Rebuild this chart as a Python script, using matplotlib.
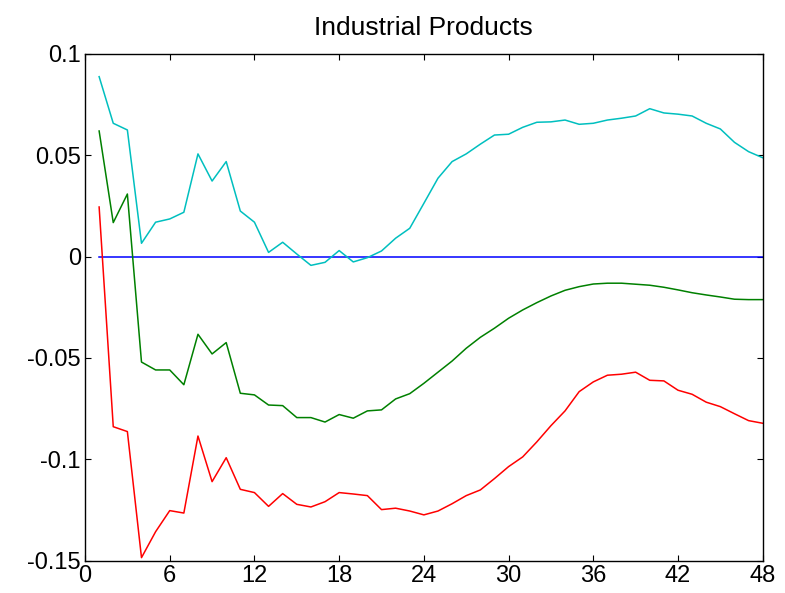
import matplotlib
matplotlib.use('Agg')
import matplotlib.pyplot as plt

# impulse responses, horizons 1..48
horizon = list(range(1, 49))

upper = [0.0888, 0.0658, 0.0625, 0.0066, 0.0170, 0.0186, 0.0219, 0.0507, 0.0373, 0.0469,
         0.0225, 0.0170, 0.0021, 0.0071, 0.0013, -0.0043, -0.0028, 0.0030, -0.0026, -0.0005,
         0.0028, 0.0091, 0.0140, 0.0263, 0.0387, 0.0469, 0.0507, 0.0555, 0.0600, 0.0604,
         0.0638, 0.0663, 0.0665, 0.0674, 0.0653, 0.0658, 0.0674, 0.0683, 0.0694, 0.0730,
         0.0709, 0.0703, 0.0694, 0.0658, 0.0630, 0.0564, 0.0518, 0.0488]

middle = [0.0620, 0.0168, 0.0309, -0.0520, -0.0559, -0.0559, -0.0632, -0.0383, -0.0480, -0.0424,
          -0.0674, -0.0682, -0.0732, -0.0735, -0.0794, -0.0794, -0.0816, -0.0779, -0.0797, -0.0761,
          -0.0756, -0.0702, -0.0676, -0.0625, -0.0570, -0.0515, -0.0452, -0.0398, -0.0353, -0.0304,
          -0.0263, -0.0227, -0.0194, -0.0166, -0.0148, -0.0135, -0.0131, -0.0131, -0.0136, -0.0141,
          -0.0151, -0.0164, -0.0178, -0.0189, -0.0199, -0.0210, -0.0212, -0.0212]

lower = [0.0245, -0.0839, -0.0863, -0.1485, -0.1357, -0.1253, -0.1265, -0.0885, -0.1110, -0.0992,
         -0.1148, -0.1164, -0.1232, -0.1169, -0.1222, -0.1235, -0.1209, -0.1164, -0.1171, -0.1179,
         -0.1248, -0.1241, -0.1255, -0.1274, -0.1255, -0.1219, -0.1179, -0.1151, -0.1095, -0.1036,
         -0.0988, -0.0914, -0.0834, -0.0761, -0.0666, -0.0618, -0.0585, -0.0580, -0.0570, -0.0610,
         -0.0613, -0.0659, -0.0679, -0.0718, -0.0740, -0.0775, -0.0809, -0.0822]

zero_line = [0.0] * len(horizon)

x_ticks = [0, 6, 12, 18, 24, 30, 36, 42, 48]
y_ticks = [-0.15, -0.1, -0.05, 0, 0.05, 0.1]
y_tick_labels = ['-0.15', '-0.1', '-0.05', '0', '0.05', '0.1']

plt.rcParams['font.family'] = ['Liberation Sans', 'DejaVu Sans']

fig = plt.figure(figsize=(7.85, 5.93), dpi=100)
ax = fig.add_axes([0.1083, 0.0545, 0.8633, 0.8545])

ax.plot(horizon, zero_line, color='#0000ff', lw=1.1)
ax.plot(horizon, upper, color='#00bfbf', lw=1.1)
ax.plot(horizon, middle, color='#008000', lw=1.1)
ax.plot(horizon, lower, color='#ff0000', lw=1.1)

ax.set_xlim(0, 48)
ax.set_ylim(-0.15, 0.1)
ax.set_xticks(x_ticks)
ax.set_yticks(y_ticks)
ax.set_yticklabels(y_tick_labels)
ax.tick_params(direction='in', top=True, right=True, length=4, width=0.8,
               labelsize=17, pad=3)
for s in ax.spines.values():
    s.set_linewidth(1.0)

ax.set_title('Industrial Products', fontsize=19, pad=14)

fig.savefig('out.png', dpi=100)
